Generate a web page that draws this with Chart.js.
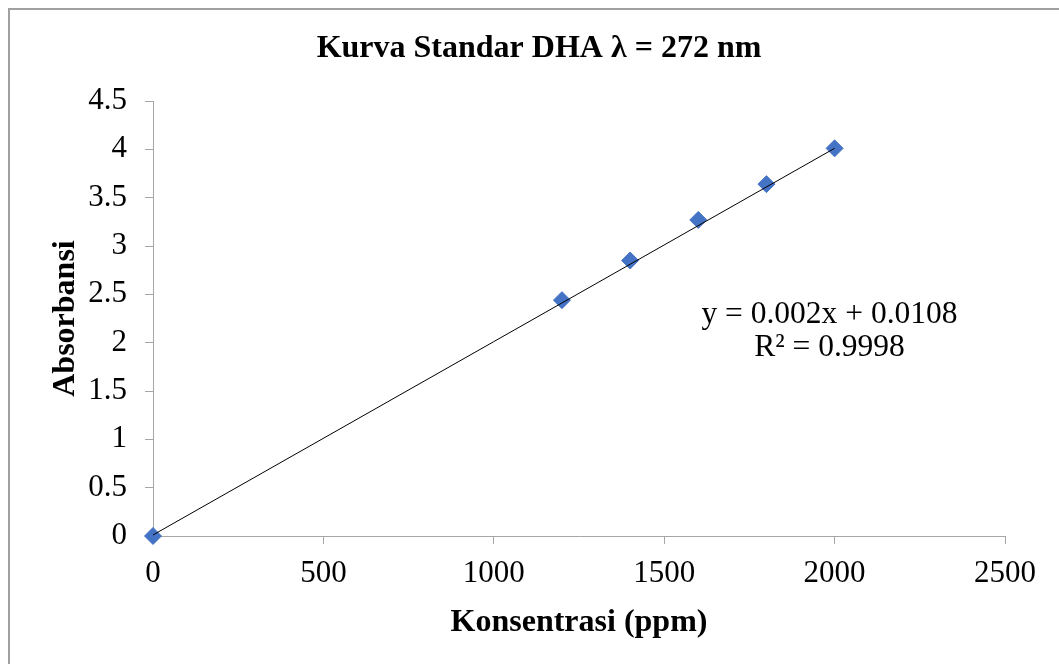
<!DOCTYPE html>
<html>
<head>
<meta charset="utf-8">
<script src="https://cdn.jsdelivr.net/npm/chart.js@4"></script>
<style>
  html, body { margin: 0; padding: 0; background: #fff; }
  #wrap { position: relative; width: 1059px; height: 664px; overflow: hidden; }
  #frame { position: absolute; left: 8px; top: 8px; width: 1100px; height: 700px;
           border-left: 2px solid #a0a0a0; border-top: 2px solid #a0a0a0; }
  canvas { position: absolute; left: 0; top: 0; }
</style>
</head>
<body>
<div id="wrap">
  <div id="frame"></div>
  <canvas id="myChart" width="1059" height="664"></canvas>
</div>
<script>
// data
const konsentrasi = [0, 1200, 1400, 1600, 1800, 2000];
const absorbansi = [0, 2.44, 2.85, 3.27, 3.64, 4.01];

// linear trendline y = 0.002x + 0.0108, drawn between its two ends
const trendX = [0, 2000];
const trendY = [0.0108, 4.0108];

const xTicks = [0, 500, 1000, 1500, 2000, 2500];
const yTicks = [0, 0.5, 1, 1.5, 2, 2.5, 3, 3.5, 4, 4.5];

const chartTitle = 'Kurva Standar DHA λ = 272 nm';
const equation = ["y = 0.002x + 0.0108", "R² = 0.9998"];

const serif = "'Liberation Serif', 'Times New Roman', serif";
const axisGrey = '#a6a6a6';

// title is centred on the whole chart frame, not on the padded box
const frameTitle = {
    id: 'frameTitle',
    afterDraw(chart) {
        const ctx = chart.ctx;
        ctx.save();
        ctx.fillStyle = '#000';
        ctx.font = "bold 32px " + serif;
        ctx.textAlign = 'center';
        ctx.textBaseline = 'middle';
        ctx.fillText(chartTitle, (chart.width + 19) / 2, 49);
        ctx.restore();
    }
};

const equationLabel = {
    id: 'equationLabel',
    afterDatasetsDraw(chart) {
        const ctx = chart.ctx;
        const x = chart.scales.x.getPixelForValue(1985);
        const y = chart.scales.y.getPixelForValue(2.29);
        ctx.save();
        ctx.fillStyle = '#000';
        ctx.font = "31.5px " + serif;
        ctx.textAlign = 'center';
        ctx.textBaseline = 'middle';
        ctx.fillText(equation[0], x, y);
        ctx.fillText(equation[1], x, y + 33);
        ctx.restore();
    }
};

const data = {
    datasets: [
        {
            label: 'Absorbansi',
            data: konsentrasi.map((k, i) => ({ x: k, y: absorbansi[i] })),
            pointStyle: 'rectRot',
            pointRadius: 8.5,
            pointHoverRadius: 8.5,
            backgroundColor: '#4472C4',
            borderColor: '#4472C4',
            borderWidth: 1,
            showLine: false,
            clip: false,
            order: 1
        },
        {
            label: 'Linear',
            data: trendX.map((k, i) => ({ x: k, y: trendY[i] })),
            showLine: true,
            borderColor: '#000',
            borderWidth: 1,
            pointRadius: 0,
            clip: false,
            order: 0
        }
    ]
};

const config = {
    type: 'scatter',
    data: data,
    options: {
        responsive: false,
        animation: false,
        layout: {
            padding: { left: 43, right: 54, top: 101, bottom: 18 }
        },
        plugins: {
            legend: { display: false },
            tooltip: { enabled: false },
            title: { display: false }
        },
        scales: {
            x: {
                type: 'linear',
                min: 0,
                max: 2500,
                afterFit(scale) { scale.height = 110; },
                afterBuildTicks(scale) { scale.ticks = xTicks.map(v => ({ value: v })); },
                ticks: {
                    color: '#000',
                    font: { family: serif, size: 31 },
                    padding: 11,
                    maxRotation: 0,
                    callback: v => String(v)
                },
                grid: { drawOnChartArea: false, drawTicks: true, tickLength: 8, color: axisGrey },
                border: { color: axisGrey, width: 1 },
                title: {
                    display: true,
                    text: 'Konsentrasi (ppm)',
                    color: '#000',
                    font: { family: serif, size: 32, weight: 'bold' }
                }
            },
            y: {
                type: 'linear',
                min: 0,
                max: 4.5,
                afterFit(scale) { scale.width = 110; },
                afterBuildTicks(scale) { scale.ticks = yTicks.map(v => ({ value: v })); },
                ticks: {
                    color: '#000',
                    font: { family: serif, size: 31 },
                    padding: 18,
                    callback: v => String(v)
                },
                grid: { drawOnChartArea: false, drawTicks: true, tickLength: 8, color: axisGrey },
                border: { color: axisGrey, width: 1 },
                title: {
                    display: true,
                    text: 'Absorbansi',
                    color: '#000',
                    font: { family: serif, size: 32, weight: 'bold' }
                }
            }
        }
    },
    plugins: [frameTitle, equationLabel]
};

const myChart = new Chart(document.getElementById('myChart'), config);
</script>
</body>
</html>
